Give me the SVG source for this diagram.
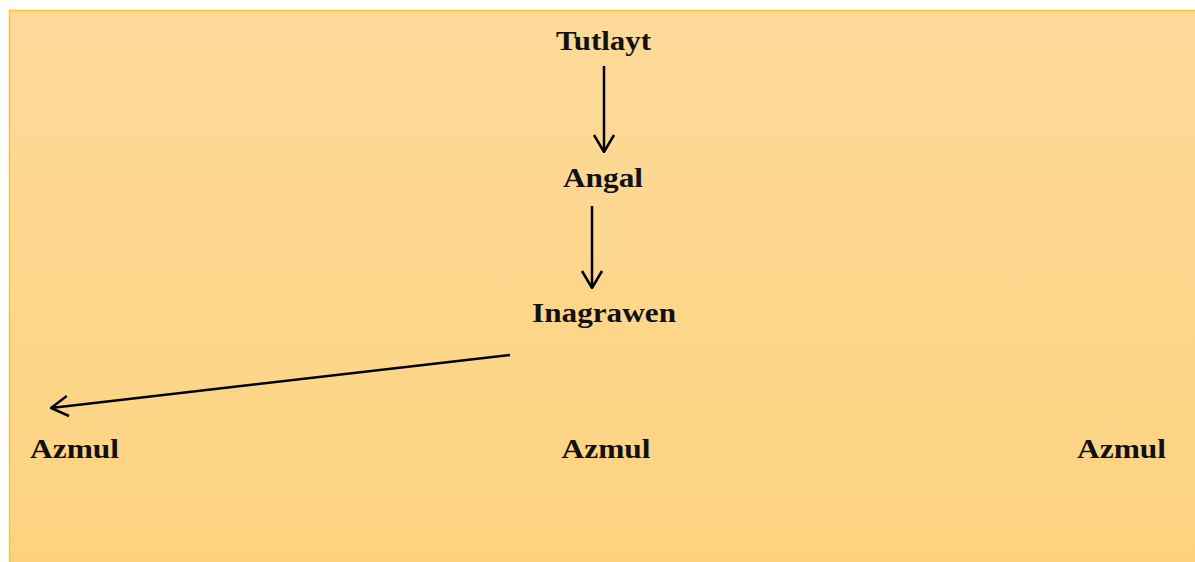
<svg xmlns="http://www.w3.org/2000/svg" width="1195" height="562" viewBox="0 0 1195 562">
<defs>
<linearGradient id="bg" x1="0" y1="0" x2="0" y2="1">
<stop offset="0" stop-color="#FDDA9A"/>
<stop offset="1" stop-color="#FED37F"/>
</linearGradient>
<marker id="ah" viewBox="0 0 20 24" refX="19" refY="12" markerWidth="20" markerHeight="24" markerUnits="userSpaceOnUse" orient="auto">
<path d="M2,2 L19,12 L2,22" fill="none" stroke="#000" stroke-width="2.5"/>
</marker>
<style>
.t{font-family:"Liberation Serif","Times New Roman",serif;font-weight:bold;font-size:28px;fill:#111;text-anchor:middle}
.c{stroke:#000;stroke-width:2.5;fill:none;marker-end:url(#ah)}
</style>
</defs>
<rect x="9.5" y="10.5" width="1190" height="560" fill="url(#bg)" stroke="#FFC425" stroke-width="1.5"/>
<g id="connectors">
<line class="c" x1="604" y1="66" x2="604" y2="152"/>
<line class="c" x1="592" y1="206" x2="592" y2="288"/>
<line class="c" x1="510" y1="355" x2="51" y2="408"/>
</g>
<g id="n-tutlayt"><text class="t" x="603.5" y="50" textLength="95" lengthAdjust="spacingAndGlyphs">Tutlayt</text></g>
<g id="n-angal"><text class="t" x="603" y="187" textLength="80" lengthAdjust="spacingAndGlyphs">Angal</text></g>
<g id="n-inagrawen"><text class="t" x="604" y="322" textLength="144" lengthAdjust="spacingAndGlyphs">Inagrawen</text></g>
<g id="n-azmul1"><text class="t" x="74.5" y="458" textLength="89" lengthAdjust="spacingAndGlyphs">Azmul</text></g>
<g id="n-azmul2"><text class="t" x="606" y="458" textLength="89" lengthAdjust="spacingAndGlyphs">Azmul</text></g>
<g id="n-azmul3"><text class="t" x="1121.5" y="458" textLength="89" lengthAdjust="spacingAndGlyphs">Azmul</text></g>
</svg>
